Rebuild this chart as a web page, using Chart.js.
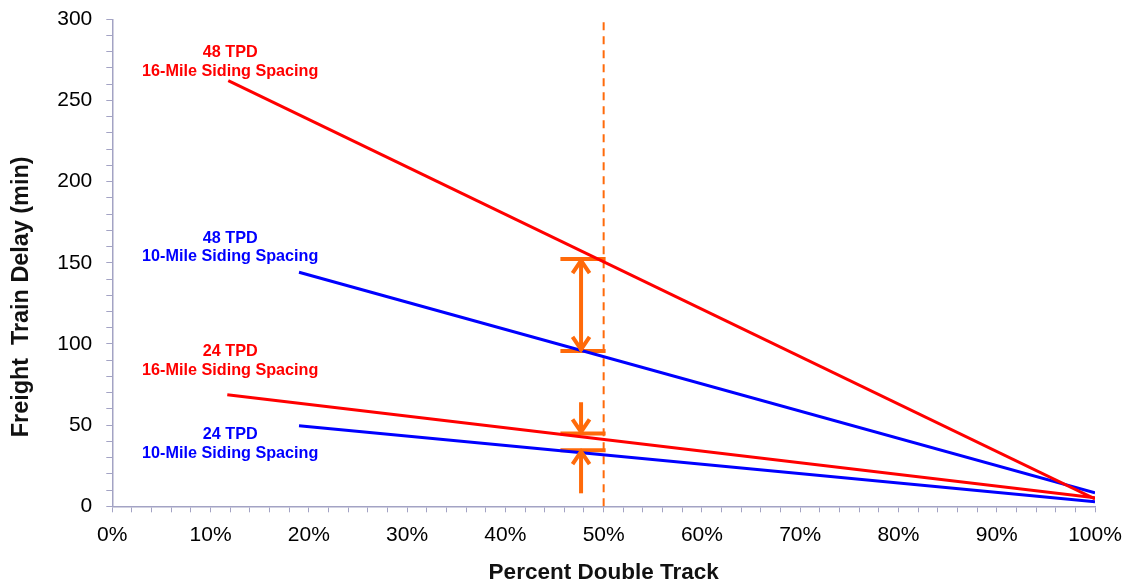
<!DOCTYPE html>
<html>
<head>
<meta charset="utf-8">
<script src="https://cdn.jsdelivr.net/npm/chart.js@4.4.1/dist/chart.umd.min.js"></script>
<style>
  html, body { margin: 0; padding: 0; background: #fff; }
  #wrap { width: 1128px; height: 583px; }
</style>
</head>
<body>
<div id="wrap"><canvas id="chart"></canvas></div>
<script>
// ── data ─────────────────────────────────────────────────────
const red48X = [11.8, 100];
const red48Y = [262.2, 4.5];
const blue48X = [19.0, 100];
const blue48Y = [144.2, 8.3];
const red24X = [11.7, 100];
const red24Y = [68.7, 5.2];
const blue24X = [19.0, 100];
const blue24Y = [49.6, 2.8];

// series captions: text lines, anchor (x %, y min of first line)
const captionLines = [
  ['48 TPD', '16-Mile Siding Spacing'],
  ['48 TPD', '10-Mile Siding Spacing'],
  ['24 TPD', '16-Mile Siding Spacing'],
  ['24 TPD', '10-Mile Siding Spacing'],
];
const captionX = [12, 12, 12, 12];
const captionY = [279.4, 165.0, 95.3, 43.9];

// orange markers at 50% double track
const markerX = 50;
const capLevels = [152.3, 95.7, 44.9, 34.6];
const capFromX = 45.6;
const capToX = 50.2;
const arrowX = 47.7;
// [from, to, headAtFrom, headAtTo]
const arrows = [
  [152.3, 95.7, true, true],
  [64.1, 44.9, false, true],
  [8.0, 34.6, false, true],
];

const yTitle = 'Freight  Train Delay (min)';
const xTitle = 'Percent Double Track';

const RED = '#ff0000';
const BLUE = '#0000ff';
const ORANGE = '#ff6a0a';
const AXIS = '#a3a3c4';
const FONT = "'Liberation Sans', Arial, sans-serif";

const pts = (xs, ys) => xs.map((x, i) => ({ x, y: ys[i] }));

function seriesLine(xs, ys, color) {
  return {
    data: pts(xs, ys), borderColor: color, backgroundColor: color,
    borderWidth: 3, pointRadius: 0, tension: 0,
  };
}

const capSets = capLevels.map(v => ({
  data: [{ x: capFromX, y: v }, { x: capToX, y: v }],
  borderColor: ORANGE, borderWidth: 4, pointRadius: 0, borderCapStyle: 'butt',
}));

const markerSet = {
  data: [{ x: markerX, y: 0 }, { x: markerX, y: 300 }],
  borderColor: ORANGE, borderWidth: 2, pointRadius: 0, borderDash: [8, 6],
};

// arrows, captions and the y title drawn through the chart scales
const overlayPlugin = {
  id: 'overlay',
  afterDatasetsDraw(chart) {
    const { ctx, scales: { x, y } } = chart;
    ctx.save();
    ctx.strokeStyle = ORANGE;
    ctx.lineWidth = 4;
    ctx.lineJoin = 'miter';
    ctx.lineCap = 'butt';
    const px = x.getPixelForValue(arrowX);
    arrows.forEach(([from, to, hFrom, hTo]) => {
      const y1 = y.getPixelForValue(from);
      const y2 = y.getPixelForValue(to);
      ctx.beginPath();
      ctx.moveTo(px, y1);
      ctx.lineTo(px, y2);
      ctx.stroke();
      const head = (tip, other) => {
        const dir = other > tip ? 1 : -1;
        ctx.beginPath();
        ctx.moveTo(px - 8.5, tip + dir * 14);
        ctx.lineTo(px, tip + dir * 1.5);
        ctx.lineTo(px + 8.5, tip + dir * 14);
        ctx.stroke();
      };
      if (hFrom) head(y1, y2);
      if (hTo) head(y2, y1);
    });

    ctx.font = `bold 16.2px ${FONT}`;
    ctx.textAlign = 'center';
    ctx.textBaseline = 'middle';
    const colors = [RED, BLUE, RED, BLUE];
    captionLines.forEach((lines, i) => {
      ctx.fillStyle = colors[i];
      const cx = x.getPixelForValue(captionX[i]);
      const cy = y.getPixelForValue(captionY[i]);
      lines.forEach((t, j) => ctx.fillText(t, cx, cy + j * 18.5));
    });

    // y title sits a little below the middle of the axis in the reference
    ctx.fillStyle = '#111';
    ctx.font = `bold 23.4px ${FONT}`;
    ctx.translate(22, y.getPixelForValue(129));
    ctx.rotate(-Math.PI / 2);
    ctx.fillText(yTitle, 0, 0);
    ctx.restore();
  },
};

new Chart(document.getElementById('chart'), {
  type: 'line',
  data: {
    datasets: [
      seriesLine(red48X, red48Y, RED),
      seriesLine(blue48X, blue48Y, BLUE),
      seriesLine(red24X, red24Y, RED),
      seriesLine(blue24X, blue24Y, BLUE),
      markerSet,
      ...capSets,
    ],
  },
  options: {
    responsive: true, maintainAspectRatio: false, animation: false,
    devicePixelRatio: 1,
    layout: { padding: { top: 19.3, right: 33, left: 0, bottom: 0 } },
    plugins: { legend: { display: false }, tooltip: { enabled: false } },
    scales: {
      x: {
        type: 'linear', min: 0, max: 100,
        afterFit: s => { s.height = 76.7; s.paddingLeft = 0; s.paddingRight = 0; },
        border: { color: AXIS, width: 1.5 },
        grid: { drawOnChartArea: false, color: AXIS, tickLength: 6 },
        ticks: {
          stepSize: 2, autoSkip: false, maxRotation: 0, padding: 10,
          color: '#000', font: { family: FONT, size: 21 },
          callback: v => (Math.round(v) % 10 === 0 ? Math.round(v) + '%' : ''),
        },
        title: {
          display: true, text: xTitle, color: '#111',
          font: { family: FONT, size: 22.5, weight: 'bold' }, padding: { top: 0, bottom: -3 },
        },
      },
      y: {
        min: 0, max: 300,
        afterFit: s => { s.width = 112.3; s.paddingTop = 0; s.paddingBottom = 0; },
        border: { color: AXIS, width: 1.5 },
        grid: { drawOnChartArea: false, color: AXIS, tickLength: 6 },
        ticks: {
          stepSize: 10, autoSkip: false, padding: 14,
          color: '#000', font: { family: FONT, size: 21 },
          callback: v => (Math.round(v) % 50 === 0 ? Math.round(v) : ''),
        },
      },
    },
  },
  plugins: [overlayPlugin],
});
</script>
</body>
</html>
